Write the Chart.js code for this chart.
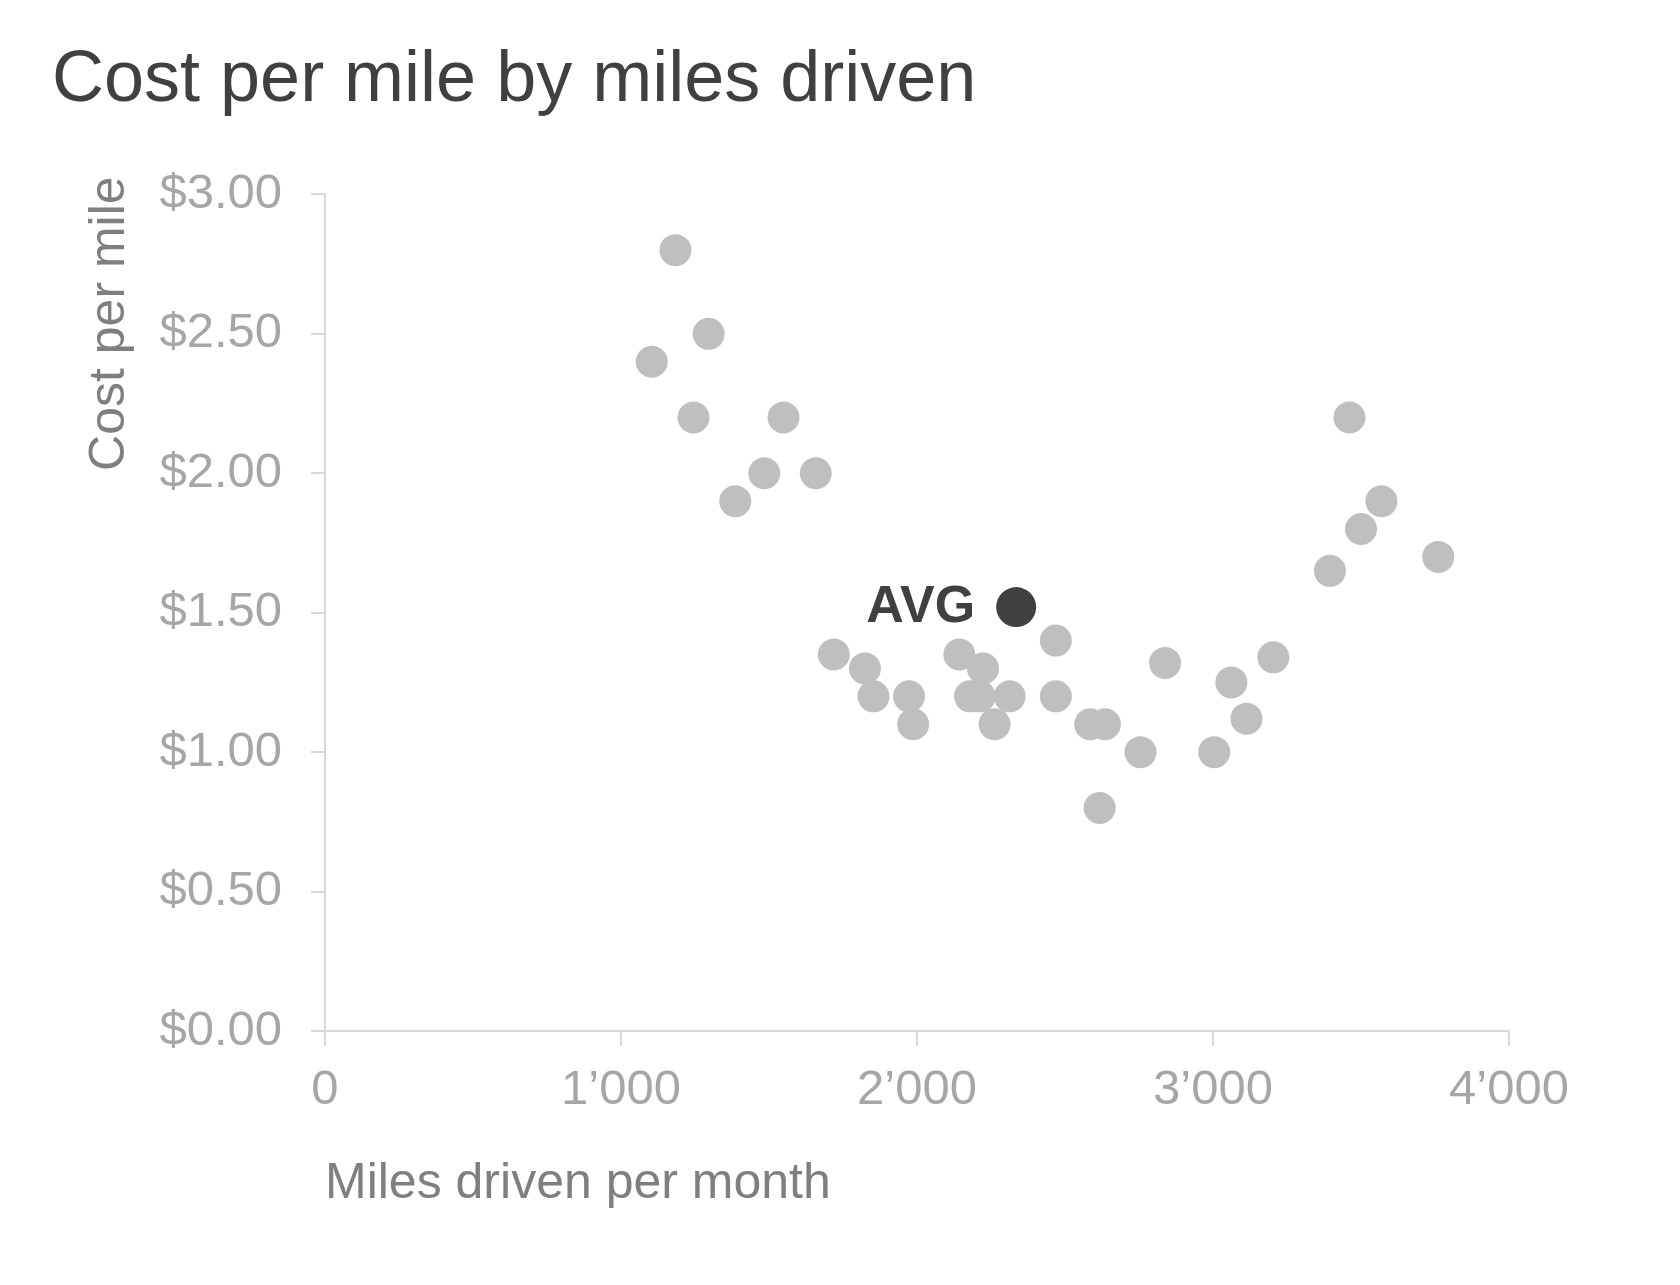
<!DOCTYPE html>
<html>
<head>
<meta charset="utf-8">
<title>Cost per mile by miles driven</title>
<script src="https://cdn.jsdelivr.net/npm/chart.js@4.4.0/dist/chart.umd.min.js"></script>
<style>
    html, body { margin: 0; padding: 0; background: #ffffff; }
    #chartBox { width: 1680px; height: 1285px; }
</style>
</head>
<body>
<div id="chartBox"><canvas id="costChart"></canvas></div>
<script>
// Data
const milesDriven = [1184, 1104, 1296, 1245, 1549, 1386, 1484, 1658,
    1719, 1824, 1853, 1973, 1987, 2143, 2223, 2179, 2212, 2313, 2262,
    2469, 2469, 2585, 2635, 2617, 2755, 2838, 3004, 3062, 3113, 3204,
    3395, 3500, 3569, 3461, 3761];
const costPerMile = [2.80, 2.40, 2.50, 2.20, 2.20, 1.90, 2.00, 2.00,
    1.35, 1.30, 1.20, 1.20, 1.10, 1.35, 1.30, 1.20, 1.20, 1.20, 1.10,
    1.40, 1.20, 1.10, 1.10, 0.80, 1.00, 1.32, 1.00, 1.25, 1.12, 1.34,
    1.65, 1.80, 1.90, 2.20, 1.70];
const avgMiles = [2335];
const avgCost = [1.52];
const avgLabel = 'AVG';

const xTicks = [0, 1000, 2000, 3000, 4000];
const yTicks = [0, 0.5, 1, 1.5, 2, 2.5, 3];

const yTitle = 'Cost per mile';

const FONT = "'Liberation Sans', Arial, sans-serif";

// Label drawn next to the average point
const avgLabelPlugin = {
    id: 'avgLabel',
    afterDatasetsDraw(chart) {
        const meta = chart.getDatasetMeta(1);
        const ctx = chart.ctx;
        meta.data.forEach((pt) => {
            ctx.save();
            ctx.font = 'bold 52px ' + FONT;
            ctx.fillStyle = '#404040';
            ctx.textAlign = 'right';
            ctx.textBaseline = 'alphabetic';
            ctx.fillText(avgLabel, pt.x - 41, pt.y + 15);
            ctx.restore();
        });
    }
};

// Y axis title, starts a little above the top of the axis
const yTitlePlugin = {
    id: 'yTitle',
    afterDraw(chart) {
        const ctx = chart.ctx;
        const area = chart.chartArea;
        ctx.save();
        ctx.translate(124, area.top - 18);
        ctx.rotate(-Math.PI / 2);
        ctx.font = '50px ' + FONT;
        ctx.fillStyle = '#7f7f7f';
        ctx.textAlign = 'right';
        ctx.textBaseline = 'alphabetic';
        ctx.fillText(yTitle, 0, 0);
        ctx.restore();
    }
};

function toPoints(xs, ys) {
    return xs.map((x, i) => ({ x: x, y: ys[i] }));
}

const ctx = document.getElementById('costChart').getContext('2d');
const costChart = new Chart(ctx, {
    type: 'scatter',
    data: {
        datasets: [{
            label: 'Cars',
            data: toPoints(milesDriven, costPerMile),
            backgroundColor: '#bfbfbf',
            borderWidth: 0,
            pointRadius: 16,
            pointHoverRadius: 16
        }, {
            label: 'Average',
            data: toPoints(avgMiles, avgCost),
            backgroundColor: '#404040',
            borderWidth: 0,
            pointRadius: 20,
            pointHoverRadius: 20
        }]
    },
    options: {
        responsive: true,
        maintainAspectRatio: false,
        animation: false,
        layout: {
            padding: { left: 52, right: 171, top: 0, bottom: 0 }
        },
        plugins: {
            legend: { display: false },
            tooltip: { enabled: false },
            title: {
                display: true,
                text: 'Cost per mile by miles driven',
                align: 'start',
                color: '#404040',
                font: { family: FONT, size: 72, weight: 'normal', lineHeight: 1.2 },
                padding: { top: 38, bottom: 70 }
            }
        },
        scales: {
            x: {
                type: 'linear',
                min: 0,
                max: 4000,
                afterFit: (scale) => { scale.height = 254; },
                afterBuildTicks: (scale) => { scale.ticks = xTicks.map(v => ({ value: v })); },
                border: { color: '#d9d9d9', width: 2 },
                grid: {
                    drawOnChartArea: false,
                    drawTicks: true,
                    tickLength: 15,
                    color: '#d9d9d9',
                    lineWidth: 2
                },
                ticks: {
                    padding: 15,
                    color: '#a6a6a6',
                    font: { family: FONT, size: 49 },
                    maxRotation: 0,
                    callback: (value) => value === 0 ? '0' : String(value).replace(/\B(?=(\d{3})+(?!\d))/g, '\u2019')
                },
                title: {
                    display: true,
                    text: 'Miles driven per month',
                    align: 'start',
                    color: '#7f7f7f',
                    font: { family: FONT, size: 50, lineHeight: 1.2 },
                    padding: { top: 0, bottom: 71 }
                }
            },
            y: {
                type: 'linear',
                min: 0,
                max: 3,
                afterFit: (scale) => { scale.width = 273; },
                afterBuildTicks: (scale) => { scale.ticks = yTicks.map(v => ({ value: v })); },
                border: { color: '#d9d9d9', width: 2 },
                grid: {
                    drawOnChartArea: false,
                    drawTicks: true,
                    tickLength: 14,
                    color: '#d9d9d9',
                    lineWidth: 2
                },
                ticks: {
                    padding: 29,
                    color: '#a6a6a6',
                    font: { family: FONT, size: 49 },
                    callback: (value) => '$' + Number(value).toFixed(2)
                },
                title: { display: false }
            }
        }
    },
    plugins: [avgLabelPlugin, yTitlePlugin]
});
</script>
</body>
</html>
